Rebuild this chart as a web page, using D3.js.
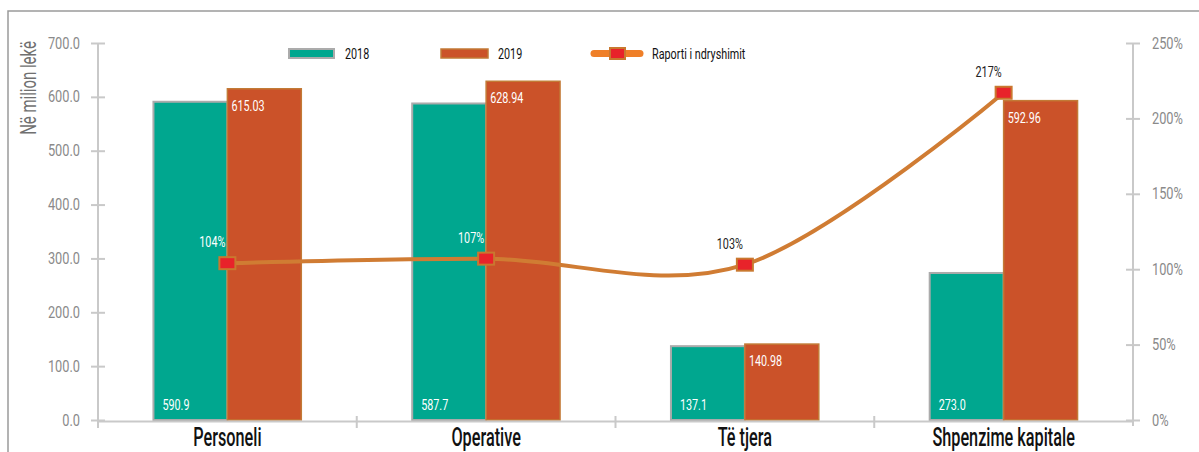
<!DOCTYPE html>
<html>
<head>
<meta charset="utf-8">
<script src="https://cdn.jsdelivr.net/npm/d3@7"></script>
<style>
  html, body { margin: 0; padding: 0; background: #ffffff; }
  svg { display: block; font-family: Roboto, "DejaVu Sans", sans-serif; }
</style>
</head>
<body>
<script>
// ---- data ----
const categories = ["Personeli", "Operative", "Të tjera", "Shpenzime kapitale"];
const seriesNames = ["2018", "2019"];
const values2018 = [590.9, 587.7, 137.1, 273.0];
const values2019 = [615.03, 628.94, 140.98, 592.96];
const ratio = [1.04, 1.07, 1.03, 2.17];
const ratioLabels = ["104%", "107%", "103%", "217%"];
const leftTicks = [0, 100, 200, 300, 400, 500, 600, 700];
const rightTicks = [0, 0.5, 1.0, 1.5, 2.0, 2.5];
const yTitle = "Në milion lekë";
const legendLine = "Raporti i ndryshimit";

// ---- setup ----
const W = 1199, H = 452;
const L = 98, R = 1133, T = 43, B = 420;
const C2018 = "#00A78F", C2019 = "#CB5229", CLINE = "#D07C33";

const svg = d3.select("body").append("svg").attr("width", W).attr("height", H);

function label(g, x, y, str, size, sx, anchor, fill, extra, weight) {
  return g.append("text")
    .attr("transform", `translate(${x},${y})${extra || ""} scale(${sx},1)`)
    .attr("text-anchor", anchor)
    .attr("font-size", size)
    .attr("font-weight", weight || 400)
    .attr("fill", fill)
    .text(str);
}

// frame
svg.append("path").attr("d", `M8,${H} V11 H${W}`).attr("fill", "none")
  .attr("stroke", "#9a9a9a").attr("stroke-width", 1.5);

const x0 = d3.scaleBand().domain(categories).range([L, R]).padding(0);
const bw = x0.bandwidth();
const x1 = d3.scaleBand().domain(seriesNames).range([-bw / 3.5, bw / 3.5]).padding(0);
const y = d3.scaleLinear().domain([0, 700]).range([B, T]);
const yR = d3.scaleLinear().domain([0, 2.5]).range([B, T]);
const cx = c => x0(c) + bw / 2;

// bars
const rows = categories.map((c, i) => ({ c, v2018: values2018[i], v2019: values2019[i], r: ratio[i], rl: ratioLabels[i] }));
const bars = svg.append("g");
rows.forEach(d => {
  bars.append("rect")
    .attr("x", cx(d.c) + x1("2018")).attr("y", y(d.v2018))
    .attr("width", x1.bandwidth()).attr("height", y(0) - y(d.v2018))
    .attr("fill", C2018).attr("stroke", "#ababab").attr("stroke-width", 2);
  bars.append("rect")
    .attr("x", cx(d.c) + x1("2019")).attr("y", y(d.v2019))
    .attr("width", x1.bandwidth()).attr("height", y(0) - y(d.v2019))
    .attr("fill", C2019).attr("stroke", "#C27A36").attr("stroke-width", 1.5);
});

// axes
const axisColor = "#c9c9c9";
const gl = svg.append("g").attr("transform", `translate(${L},0)`)
  .call(d3.axisLeft(y).tickValues(leftTicks).tickFormat(d3.format(".1f")).tickSize(7).tickSizeOuter(0));
gl.select(".domain").attr("stroke", axisColor).attr("stroke-width", 2).attr("d", `M0,${T}V428`);
gl.selectAll(".tick line").attr("stroke", axisColor).attr("stroke-width", 2).attr("x1", 7).attr("x2", -7);
gl.selectAll(".tick text").attr("x", 0).attr("font-size", 16).attr("fill", "#8a8a8a")
  .attr("font-family", "Roboto").attr("text-anchor", "end")
  .attr("transform", "translate(-18,0) scale(0.8,1)");

const gr = svg.append("g").attr("transform", `translate(${R},0)`)
  .call(d3.axisRight(yR).tickValues(rightTicks).tickFormat(d3.format(".0%")).tickSize(7).tickSizeOuter(0));
gr.select(".domain").attr("stroke", axisColor).attr("stroke-width", 2).attr("d", `M0,${T}V426`);
gr.selectAll(".tick line").attr("stroke", axisColor).attr("stroke-width", 2).attr("x1", -7).attr("x2", 7);
gr.selectAll(".tick text").attr("x", 0).attr("font-size", 16).attr("fill", "#8a8a8a")
  .attr("font-family", "Roboto").attr("text-anchor", "start")
  .attr("transform", "translate(19,0) scale(0.8,1)");

// x axis
const gx = svg.append("g").attr("transform", `translate(0,${B + 1})`)
  .call(d3.axisBottom(x0).tickSize(0).tickSizeOuter(0).tickFormat(""));
gx.select(".domain").attr("stroke", axisColor).attr("stroke-width", 2);
categories.slice(1).forEach(c => {
  gx.append("line").attr("x1", x0(c)).attr("x2", x0(c)).attr("y1", -5).attr("y2", 7)
    .attr("stroke", axisColor).attr("stroke-width", 2);
});
categories.forEach(c => label(svg, cx(c), 446, c, 25, 0.65, "middle", "#111", "", 500));

// y title
label(svg, 36, 88, yTitle, 22, 0.68, "middle", "#707070", " rotate(-90)");

// value labels
rows.forEach(d => {
  label(svg, cx(d.c) + x1("2018") + 9, 410, d3.format(".1f")(d.v2018), 15, 0.72, "start", "#ffffff");
  label(svg, cx(d.c) + x1("2019") + 4, y(d.v2019) + 22, d3.format(".2f")(d.v2019), 15, 0.72, "start", "#ffffff");
});

// ratio line
const line = d3.line().x(d => cx(d.c)).y(d => yR(d.r)).curve(d3.curveCardinal.tension(0));
svg.append("path").datum(rows).attr("d", line).attr("fill", "none")
  .attr("stroke", CLINE).attr("stroke-width", 4);
rows.forEach(d => {
  svg.append("rect").attr("x", cx(d.c) - 8).attr("y", yR(d.r) - 6)
    .attr("width", 16).attr("height", 12)
    .attr("fill", "#E8232A").attr("stroke", "#C9782F").attr("stroke-width", 2);
  const ly = yR(d.r) - 16;
  const inside = ly > y(d.v2018);
  label(svg, cx(d.c) - 2, ly, d.rl, 15, 0.72, "end", inside ? "#ffffff" : "#222");
});

// legend
const lg = svg.append("g");
lg.append("rect").attr("x", 289).attr("y", 49).attr("width", 45).attr("height", 9)
  .attr("fill", C2018).attr("stroke", "#ababab").attr("stroke-width", 2);
label(lg, 345, 59, seriesNames[0], 15, 0.72, "start", "#111");
lg.append("rect").attr("x", 441).attr("y", 49).attr("width", 47).attr("height", 9)
  .attr("fill", C2019).attr("stroke", "#C27A36").attr("stroke-width", 1.5);
label(lg, 498, 59, seriesNames[1], 15, 0.72, "start", "#111");
lg.append("line").attr("x1", 594).attr("x2", 640).attr("y1", 53.5).attr("y2", 53.5)
  .attr("stroke", "#EF7F28").attr("stroke-width", 7).attr("stroke-linecap", "round");
lg.append("rect").attr("x", 610).attr("y", 48).attr("width", 15).attr("height", 11)
  .attr("fill", "#E8232A").attr("stroke", "#C9782F").attr("stroke-width", 2);
label(lg, 652, 59, legendLine, 15, 0.72, "start", "#111");
</script>
</body>
</html>
